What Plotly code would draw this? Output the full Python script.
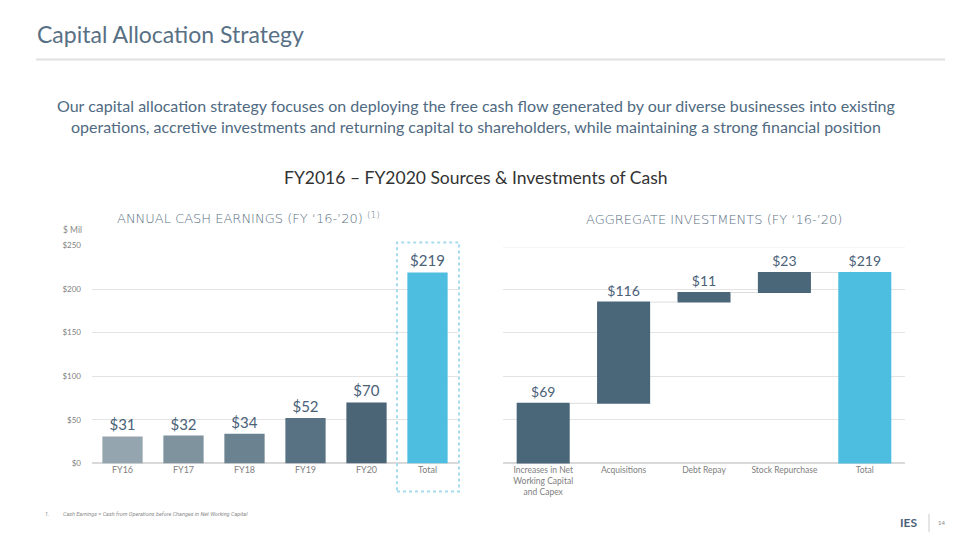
import plotly.graph_objects as go

# ---------------- data ----------------
years = ["FY16", "FY17", "FY18", "FY19", "FY20", "Total"]
cash_earnings = [31, 32, 34, 52, 70, 219]
earn_colors = ["#95a5b0", "#7f939f", "#6b8290", "#587284", "#4b6577", "#4dbde0"]

inv_cats = ["Increases in Net<br>Working Capital<br>and Capex", "Acquisitions", "Debt Repay",
            "Stock Repurchase", "Total"]
inv_values = [69, 116, 11, 23, 219]
inv_measure = ["relative", "relative", "relative", "relative", "total"]

y_ticks = [0, 50, 100, 150, 200, 250]
y_ticklabels = ["$0", "$50", "$100", "$150", "$200", "$250"]

FONT = "Lato"
W, H = 960, 540

def px(x):
    return x / W

def py(y):
    y = (y - 6.8) / 0.9766
    return 1 - y / H

fig = go.Figure()

fig.add_trace(go.Bar(
    x=years, y=cash_earnings, marker=dict(color=earn_colors, line=dict(width=0)),
    width=0.66,
    text=[f"${v}" for v in cash_earnings], textposition="outside",
    textfont=dict(family=FONT, size=15, color="#4a6178"),
    cliponaxis=False, xaxis="x", yaxis="y", showlegend=False, hoverinfo="skip",
))

fig.add_trace(go.Waterfall(
    x=inv_cats, y=inv_values, measure=inv_measure,
    width=0.66,
    increasing=dict(marker=dict(color="#4a6679")),
    totals=dict(marker=dict(color="#4dbde0")),
    connector=dict(line=dict(color="#dcdcdc", width=1)),
    text=[f"${v}" for v in inv_values], textposition="outside",
    textfont=dict(family=FONT, size=14, color="#4a6178"),
    cliponaxis=False, xaxis="x2", yaxis="y2", showlegend=False, hoverinfo="skip",
))

ydom = [py(463), py(246)]

fig.update_layout(
    width=W, height=H, margin=dict(l=0, r=0, t=0, b=0),
    paper_bgcolor="white", plot_bgcolor="white",
    font=dict(family=FONT),
    xaxis=dict(domain=[px(92), px(458)], showgrid=False, zeroline=False, showline=False,
               ticks="", tickfont=dict(family=FONT, size=9, color="#808080"), fixedrange=True),
    yaxis=dict(domain=ydom, range=[0, 250], tickvals=y_ticks, ticktext=y_ticklabels,
               showgrid=True, gridcolor="#e3e3e3", gridwidth=1, zeroline=True,
               zerolinecolor="#d9d9d9", zerolinewidth=2,
               tickfont=dict(family=FONT, size=8, color="#808080"), ticks="",
               ticklabelstandoff=10),
    xaxis2=dict(domain=[px(503), px(905)], showgrid=False, zeroline=False, showline=False,
                ticks="", tickfont=dict(family=FONT, size=8.5, color="#808080"), anchor="y2"),
    yaxis2=dict(domain=ydom, range=[0, 250], tickvals=[0, 50, 100, 150, 200],
                showticklabels=False,
                showgrid=True, gridcolor="#e3e3e3", zeroline=True, zerolinecolor="#d9d9d9",
                zerolinewidth=2, anchor="x2"),
    bargap=0.34,
)

shapes = [
    # title underline
    dict(type="line", xref="paper", yref="paper", x0=px(36), x1=px(945), y0=py(61), y1=py(61),
         line=dict(color="#e0e0e0", width=2)),
    # faint top gridline on right panel
    dict(type="line", xref="paper", yref="paper", x0=px(503), x1=px(905), y0=py(248), y1=py(248),
         line=dict(color="#f4f4f4", width=1)),
    # dashed box around total
    dict(type="rect", xref="paper", yref="paper", x0=px(397), x1=px(459), y0=py(491), y1=py(243),
         line=dict(color="#a6dbee", width=2, dash="3px,3px")),
    # logo separator
    dict(type="line", xref="paper", yref="paper", x0=px(929), x1=px(929), y0=py(513), y1=py(531),
         line=dict(color="#cccccc", width=1)),
]
fig.update_layout(shapes=shapes)

HEAD = dict(family="DejaVu Sans", size=13, color="#5a6f82", weight=200)

ann = [
    dict(text="Capital Allocation Strategy", x=px(35), y=py(36), xanchor="left", yanchor="middle",
         font=dict(family=FONT, size=23, color="#587085")),
    dict(text="Our capital allocation strategy focuses on deploying the free cash flow generated by our diverse businesses into existing<br>"
              "operations, accretive investments and returning capital to shareholders, while maintaining a strong financial position",
         x=px(476), y=py(117), xanchor="center", yanchor="middle",
         font=dict(family=FONT, size=16, color="#4f6a82")),
    dict(text="FY2016 – FY2020 Sources &amp; Investments of Cash", x=px(476), y=py(178), xanchor="center",
         yanchor="middle", font=dict(family=FONT, size=17.5, color="#333333")),
    dict(text="ANNUAL CASH EARNINGS (FY ‘16-’20) <sup>(1)</sup>", x=px(248), y=py(219), xanchor="center",
         yanchor="middle", font=HEAD),
    dict(text="AGGREGATE INVESTMENTS (FY ‘16-’20)", x=px(714), y=py(220), xanchor="center",
         yanchor="middle", font=HEAD),
    dict(text="$ Mil", x=px(61), y=py(231), xanchor="left", yanchor="middle",
         font=dict(family=FONT, size=8.5, color="#888888")),
    dict(text="<i>1.&nbsp;&nbsp;&nbsp;&nbsp;&nbsp;&nbsp;&nbsp;&nbsp;&nbsp;&nbsp;Cash Earnings = Cash from Operations before Changes in Net Working Capital</i>",
         x=px(43), y=py(513), xanchor="left", yanchor="middle",
         font=dict(family="Roboto", size=5.5, color="#8a8a8a")),
    dict(text="<b>IES</b>", x=px(908), y=py(522), xanchor="center", yanchor="middle",
         font=dict(family=FONT, size=12, color="#4a6178")),
    dict(text="14", x=px(941), y=py(522), xanchor="center", yanchor="middle",
         font=dict(family=FONT, size=6, color="#888888")),
]
for a in ann:
    a.update(xref="paper", yref="paper", showarrow=False)
fig.update_layout(annotations=ann)

fig.write_html("out.html")
